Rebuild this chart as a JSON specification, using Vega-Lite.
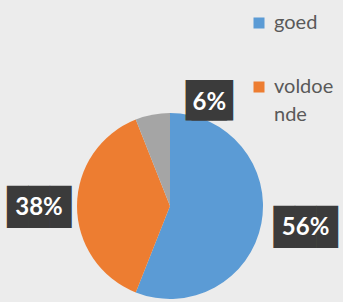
{
  "$schema": "https://vega.github.io/schema/vega-lite/v6.json",
  "width": 340,
  "height": 190,
  "autosize": {"type": "none"},
  "padding": {"left": 0, "top": 111, "right": 3, "bottom": 1},
  "background": "#ececec",
  "config": {
    "view": {"stroke": null},
    "style": {"guide-label": {"lineHeight": 28}}
  },
  "data": {
    "values": [
      {"cat": "goed", "value": 56, "label": "56%"},
      {"cat": "voldoende", "value": 38, "label": "38%"},
      {"cat": "weet niet", "value": 6, "label": "6%"}
    ]
  },
  "encoding": {
    "theta": {"field": "value", "type": "quantitative", "stack": true},
    "order": {"field": "cat", "type": "nominal"}
  },
  "layer": [
    {
      "mark": {"type": "arc", "radius": 93},
      "encoding": {
        "color": {
          "field": "cat",
          "type": "nominal",
          "scale": {"domain": ["goed", "voldoende", "weet niet"], "range": ["#5b9bd5", "#ed7d31", "#a5a5a5"]},
          "legend": {
            "values": ["goed", "voldoende"],
            "title": null,
            "orient": "none",
            "legendX": 249,
            "legendY": -98,
            "symbolType": "square",
            "symbolSize": 121,
            "symbolStrokeWidth": 0,
            "labelFont": "Lato",
            "labelFontSize": 20,
            "labelColor": "#595959",
            "labelOffset": 5,
            "rowPadding": 44,
            "padding": 0,
            "labelExpr": "datum.label == 'voldoende' ? ['voldoe', 'nde'] : datum.label"
          }
        }
      }
    },
    {
      "mark": {"type": "text", "radius": 138, "dy": -4, "font": "DejaVu Sans Mono", "fontSize": 35.5, "color": "#3b3b3b", "baseline": "middle", "align": "center"},
      "encoding": {
        "text": {"condition": {"test": "datum.cat === 'goed'", "value": "███"}, "value": ""}
      }
    },
    {
      "mark": {"type": "text", "radius": 138, "dy": -4, "font": "Lato", "fontWeight": "bold", "fontSize": 24, "color": "white", "baseline": "middle", "align": "center"},
      "encoding": {
        "text": {"condition": {"test": "datum.cat === 'goed'", "field": "label"}, "value": ""}
      }
    },
    {
      "mark": {"type": "text", "radius": 131, "dy": 2, "font": "DejaVu Sans Mono", "fontSize": 35.5, "color": "#3b3b3b", "baseline": "middle", "align": "center"},
      "encoding": {
        "text": {"condition": {"test": "datum.cat === 'voldoende'", "value": "███"}, "value": ""}
      }
    },
    {
      "mark": {"type": "text", "radius": 131, "dy": 2, "font": "Lato", "fontWeight": "bold", "fontSize": 24, "color": "white", "baseline": "middle", "align": "center"},
      "encoding": {
        "text": {"condition": {"test": "datum.cat === 'voldoende'", "field": "label"}, "value": ""}
      }
    },
    {
      "mark": {"type": "text", "radius": 105, "dx": 56, "dy": -1, "font": "DejaVu Sans Mono", "fontSize": 34, "color": "#3b3b3b", "baseline": "middle", "align": "center"},
      "encoding": {
        "text": {"condition": {"test": "datum.cat === 'weet niet'", "value": "██"}, "value": ""}
      }
    },
    {
      "mark": {"type": "text", "radius": 105, "dx": 62, "dy": -1, "font": "DejaVu Sans Mono", "fontSize": 34, "color": "#3b3b3b", "baseline": "middle", "align": "center"},
      "encoding": {
        "text": {"condition": {"test": "datum.cat === 'weet niet'", "value": "██"}, "value": ""}
      }
    },
    {
      "mark": {"type": "text", "radius": 105, "dx": 59, "font": "Lato", "fontWeight": "bold", "fontSize": 24, "color": "white", "baseline": "middle", "align": "center"},
      "encoding": {
        "text": {"condition": {"test": "datum.cat === 'weet niet'", "field": "label"}, "value": ""}
      }
    }
  ]
}
